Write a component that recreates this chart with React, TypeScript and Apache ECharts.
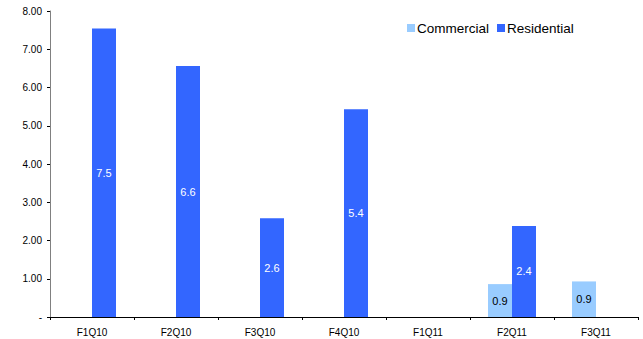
import React, { useEffect, useRef } from "react";
import * as echarts from "echarts";

const categories = ["F1Q10", "F2Q10", "F3Q10", "F4Q10", "F1Q11", "F2Q11", "F3Q11"];
const commercial: (number | null)[] = [null, null, null, null, null, 0.86, 0.93];
const residential: (number | null)[] = [7.54, 6.56, 2.58, 5.43, null, 2.38, null];

const FONT = "Liberation Sans, Arial, sans-serif";

export default function App() {
  const ref = useRef<HTMLDivElement>(null);

  useEffect(() => {
    document.body.style.margin = "0";
    const chart = echarts.init(ref.current!, null, { renderer: "svg" });
    const labelFmt = (p: any) => (p.value == null ? "" : Number(p.value).toFixed(1));
    chart.setOption({
      animation: false,
      textStyle: { fontFamily: FONT },
      legend: {
        data: ["Commercial", "Residential"],
        left: 402,
        top: 16,
        itemWidth: 8,
        itemHeight: 8,
        itemGap: 8,
        icon: "rect",
        textStyle: { fontSize: 13.5, color: "#000", fontFamily: FONT, padding: [0, 0, 0, -3] },
      },
      grid: { left: 50, right: 5, top: 11, bottom: 22 },
      xAxis: {
        type: "category",
        data: categories,
        axisLine: { lineStyle: { color: "#000", width: 1 } },
        axisTick: { show: true, alignWithLabel: false, length: 3, lineStyle: { color: "#000" } },
        axisLabel: { fontSize: 10, color: "#000", fontFamily: FONT, margin: 10 },
        splitLine: { show: false },
      },
      yAxis: {
        type: "value",
        min: 0,
        max: 8,
        interval: 1,
        axisLine: { show: true, lineStyle: { color: "#808080", width: 1 } },
        axisTick: { show: true, length: 3, lineStyle: { color: "#000" } },
        axisLabel: {
          fontSize: 10,
          color: "#000",
          fontFamily: FONT,
          margin: 8,
          formatter: (v: number) => (v === 0 ? "-" : v.toFixed(2)),
        },
        splitLine: { show: false },
      },
      series: [
        {
          name: "Commercial",
          type: "bar",
          data: commercial,
          barWidth: 24,
          barGap: "0%",
          itemStyle: { color: "#99CCFF" },
          label: {
            show: true,
            position: "inside",
            color: "#000",
            fontSize: 11,
            fontFamily: FONT,
            formatter: labelFmt,
          },
        },
        {
          name: "Residential",
          type: "bar",
          data: residential,
          barWidth: 24,
          barGap: "0%",
          itemStyle: { color: "#3366FF" },
          label: {
            show: true,
            position: "inside",
            color: "#fff",
            fontSize: 11,
            fontFamily: FONT,
            formatter: labelFmt,
          },
        },
      ],
    });
    return () => chart.dispose();
  }, []);

  return <div ref={ref} style={{ width: 643, height: 339 }} />;
}
